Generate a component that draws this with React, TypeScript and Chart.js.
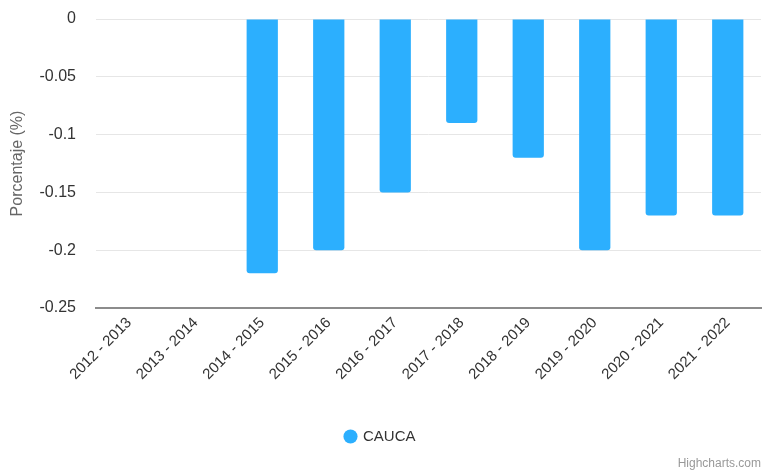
import React, { useEffect, useRef } from "react";
import { Chart, registerables } from "chart.js";

Chart.register(...registerables);

const categories = [
  "2012 - 2013",
  "2013 - 2014",
  "2014 - 2015",
  "2015 - 2016",
  "2016 - 2017",
  "2017 - 2018",
  "2018 - 2019",
  "2019 - 2020",
  "2020 - 2021",
  "2021 - 2022",
];
const seriesName = "CAUCA";
const caucaValues: (number | null)[] = [null, null, -0.22, -0.2, -0.15, -0.09, -0.12, -0.2, -0.17, -0.17];
const yTicks = [0, -0.05, -0.1, -0.15, -0.2, -0.25];
const yTitle = "Porcentaje (%)";
const credit = "Highcharts.com";

const FONT = "'Liberation Sans', Arial, Helvetica, sans-serif";

export default function App() {
  const ref = useRef<HTMLCanvasElement | null>(null);
  useEffect(() => {
    document.body.style.margin = "0";
    const ctx = ref.current!;
    const chart = new Chart(ctx, {
      type: "bar",
      data: {
        labels: categories,
        datasets: [
          {
            label: seriesName,
            data: caucaValues,
            backgroundColor: "#2caffe",
            borderRadius: 3,
            borderSkipped: "start",
            barPercentage: 0.47,
            categoryPercentage: 1,
          },
        ],
      },
      options: {
        responsive: false,
        animation: false,
        maintainAspectRatio: false,
        layout: { padding: { top: 0, bottom: 16, left: 0, right: 2 } },
        plugins: {
          legend: {
            position: "bottom",
            labels: {
              usePointStyle: true,
              pointStyle: "circle",
              boxWidth: 10,
              boxHeight: 10,
              padding: 10,
              color: "#333333",
              font: { family: FONT, size: 15 },
            },
          },
          tooltip: { enabled: false },
        },
        scales: {
          x: {
            grid: { display: false, drawTicks: false },
            border: { display: true, color: "#8c8c8c", width: 2 },
            ticks: {
              color: "#333333",
              font: { family: FONT, size: 15 },
              minRotation: 45,
              maxRotation: 45,
              padding: 6,
              autoSkip: false,
            },
            afterFit: (scale: any) => {
              scale.height = 111;
            },
          },
          y: {
            min: -0.25,
            max: 0,
            afterBuildTicks: (scale: any) => {
              scale.ticks = yTicks.map((v) => ({ value: v }));
            },
            grid: { color: "#e6e6e6", drawTicks: false, lineWidth: 1 },
            border: { display: false },
            ticks: {
              color: "#333333",
              font: { family: FONT, size: 16 },
              padding: 20,
              callback: (v: any) => String(Math.round(Number(v) * 100) / 100),
            },
            title: {
              display: true,
              text: yTitle,
              color: "#666666",
              font: { family: FONT, size: 16 },
              padding: { top: 8, bottom: 4 },
            },
            afterFit: (scale: any) => {
              scale.width = 96;
              scale.paddingTop = 19;
              scale.paddingBottom = 0;
            },
          },
        },
      },
    } as any);
    return () => chart.destroy();
  }, []);
  return (
    <div style={{ position: "relative", width: 763, height: 470, background: "#fff", overflow: "hidden" }}>
      <canvas ref={ref} width={763} height={470} style={{ display: "block" }} />
      <div
        style={{
          position: "absolute",
          right: 2,
          bottom: 0,
          fontFamily: FONT,
          fontSize: 12,
          color: "#999999",
          lineHeight: "14px",
        }}
      >
        {credit}
      </div>
    </div>
  );
}
